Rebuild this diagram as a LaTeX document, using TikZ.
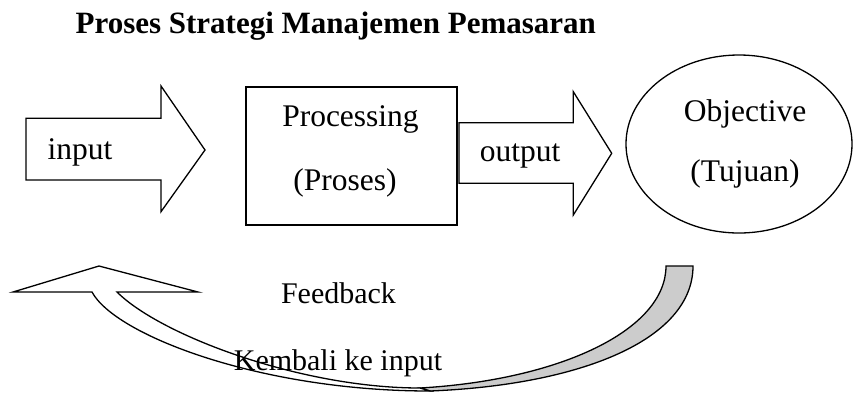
\documentclass[tikz,border=0pt]{standalone}
\usepackage{fontspec}
\setmainfont{Liberation Serif}
\definecolor{fbgrey}{HTML}{CCCCCC}
\begin{document}
\begin{tikzpicture}[x=1pt,y=-1pt, line width=1.3pt, line join=miter,
  lbl/.style={font=\fontsize{31.5}{32}\selectfont, inner sep=0pt, anchor=base},
  fbl/.style={font=\fontsize{30}{30}\selectfont, inner sep=0pt, anchor=base},
  blockshape/.style={draw=black, fill=white}]
\useasboundingbox (0,0) rectangle (854,392);
\node[anchor=base west, inner sep=0pt, font=\bfseries\fontsize{31}{31}\selectfont] (title) at (75,33) {Proses Strategi Manajemen Pemasaran};
% input arrow
\draw[blockshape] (26,118.3) -- (161,118.3) -- (161,86) -- (205,150) -- (161,211.7) -- (161,180) -- (26,180) -- cycle;
\node[lbl, anchor=base west] (in) at (47,159) {input};
% processing box
\draw[blockshape] (246,87) rectangle (457,225);
\node[lbl] (proc) at (350.5,126.7) {Processing};
\node[lbl] (pros) at (345,190) {(Proses)};
% output arrow
\draw[blockshape] (459,122.7) -- (573.3,122.7) -- (573.3,91.7) -- (611.7,153.3) -- (573.3,215) -- (573.3,183.3) -- (459,183.3) -- cycle;
\node[lbl] (out) at (520,161.7) {output};
% objective ellipse
\draw[blockshape] (739,144) ellipse [x radius=113pt, y radius=89pt];
\node[lbl] (obj) at (745,121.7) {Objective};
\node[lbl] (tuj) at (745,181.7) {(Tujuan)};
% feedback curved arrow: grey back face
\draw[fill=fbgrey] (420,388) .. controls (560,380) and (666,330) .. (666,266) -- (693,266) .. controls (693,340) and (580,385) .. (430,391) -- cycle;
% white front face with head
\draw[blockshape] (92,292) -- (13,292) -- (99,266) -- (198,292) -- (117,292) .. controls (160,335) and (300,388) .. (420,388) -- (430,391) .. controls (260,391) and (115,335) .. (92,292) -- cycle;
\node[fbl] (fb) at (338.5,303) {Feedback};
\node[fbl] (kb) at (338,370) {Kembali ke input};
\end{tikzpicture}
\end{document}
